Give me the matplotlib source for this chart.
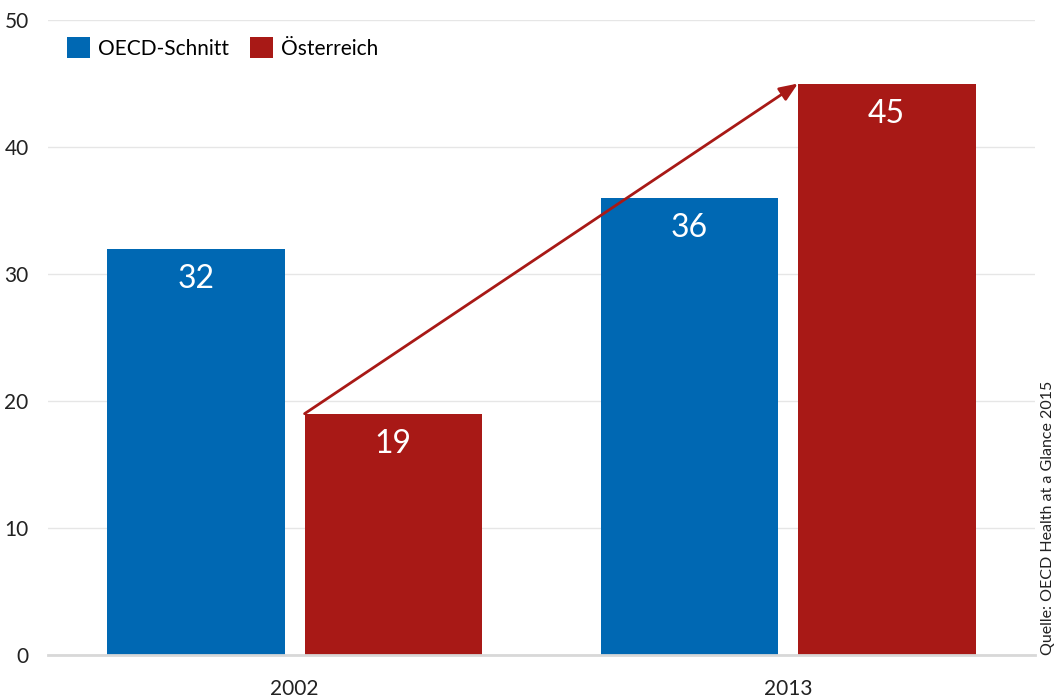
import matplotlib

matplotlib.use("Agg")
import matplotlib.pyplot as plt
import numpy as np

plt.rcParams["font.family"] = ["Lato", "DejaVu Sans"]

years = ["2002", "2013"]
oecd = [32, 36]
austria = [19, 45]
series_names = ["OECD-Schnitt", "Österreich"]
source = "Quelle: OECD Health at a Glance 2015"

BLUE = "#0068b3"
RED = "#a81916"

fig = plt.figure(figsize=(10.58, 6.98), dpi=100)
ax = fig.add_axes([0.0454, 0.0616, 0.9326, 0.9097])

x = np.arange(len(years))
width = 0.36
offset = 0.2
b1 = ax.bar(x - offset, oecd, width, color=BLUE, label=series_names[0], zorder=2)
b2 = ax.bar(x + offset, austria, width, color=RED, label=series_names[1], zorder=2)

for bars, vals in ((b1, oecd), (b2, austria)):
    for rect, v in zip(bars, vals):
        ax.text(rect.get_x() + rect.get_width() / 2, v - 2.4, str(v),
                ha="center", va="center", color="white", fontsize=23, zorder=3)

# arrow from the 2002 to the 2013 value for Austria
x0 = x[0] + offset - width / 2
x1 = x[1] + offset - width / 2
ax.annotate("", xy=(x1, austria[1]), xytext=(x0, austria[0]),
            arrowprops=dict(arrowstyle="-|>,head_length=1.1,head_width=0.45",
                            color=RED, lw=2, shrinkA=0, shrinkB=0), zorder=4)

ax.set_xlim(-0.5, 1.5)
ax.set_ylim(0, 50)
ax.set_yticks(range(0, 51, 10))
ax.set_xticks(x, years)
ax.tick_params(length=0, labelsize=15, colors="#222222")
ax.tick_params(axis="x", pad=17)
ax.tick_params(axis="y", pad=14)
ax.grid(axis="y", color="#e6e6e6", lw=1, zorder=0)
for side in ("top", "right", "left"):
    ax.spines[side].set_visible(False)
ax.spines["bottom"].set_color("#d8d8d8")
ax.spines["bottom"].set_linewidth(2)

ax.legend(loc="upper left", bbox_to_anchor=(0.0, 1.003), frameon=False,
          ncol=2, fontsize=15, handlelength=1.1, handleheight=1.2,
          handletextpad=0.4, columnspacing=1.0)

fig.text(0.991, 0.0616, source, rotation=90, ha="center", va="bottom",
         fontsize=11.5, color="#222222")

fig.savefig("out.png", dpi=100)
